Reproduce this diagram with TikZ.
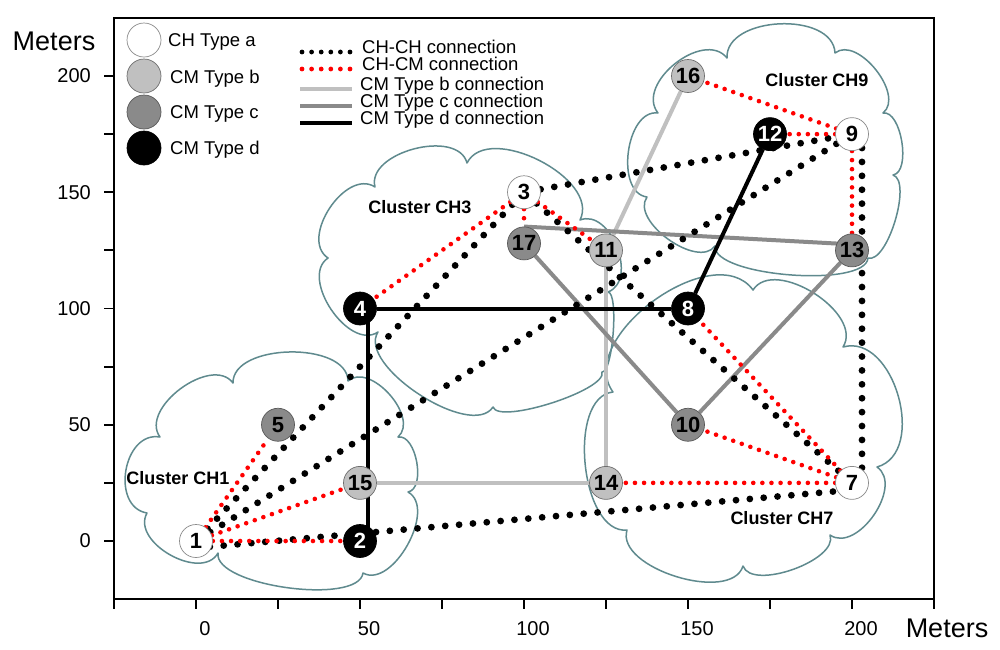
\documentclass[tikz,border=0pt]{standalone}
\usepackage{fontspec}
\setmainfont{Liberation Sans}
\definecolor{cloudc}{RGB}{95,138,142}
\definecolor{cmb}{RGB}{192,192,192}
\definecolor{cmc}{RGB}{138,138,138}
\definecolor{rim}{RGB}{110,110,110}
\pgfdeclarelayer{bg}
\pgfdeclarelayer{lines}
\pgfsetlayers{bg,lines,main}
\begin{document}
\begin{tikzpicture}[x=1pt,y=1pt,
  nb/.style={circle,minimum size=33pt,inner sep=0pt,line width=0.7pt,font=\fontsize{22}{22}\selectfont\bfseries},
  typea/.style={nb,fill=white,draw=rim!80},
  typeb/.style={nb,fill=cmb,draw=rim},
  typec/.style={nb,fill=cmc,draw=rim!80!black},
  typed/.style={nb,fill=black,draw=black,text=white},
  chch/.style={black,line width=6.8pt,line cap=round,dash pattern=on 0pt off 13.9pt},
  chcm/.style={red,line width=4.6pt,line cap=round,dash pattern=on 0pt off 9.1pt},
  legchch/.style={black,line width=4.8pt,line cap=round,dash pattern=on 0pt off 9.6pt},
  legchcm/.style={red,line width=4.8pt,line cap=round,dash pattern=on 0pt off 9.6pt},
  linkb/.style={cmb,line width=4pt},
  linkc/.style={cmc,line width=4pt},
  linkd/.style={black,line width=4pt},
  cloudline/.style={draw=cloudc,line width=1.5pt,line join=round},
  pf/.style={bend left=90,looseness=#1},
  clabel/.style={font=\fontsize{18}{18}\selectfont\bfseries},
  legtext/.style={font=\fontsize{18.5}{18.5}\selectfont,anchor=west,text depth=0pt,inner sep=0pt},
  ticklab/.style={font=\fontsize{20}{20}\selectfont,inner sep=0pt},
  axlab/.style={font=\fontsize{27}{27}\selectfont,inner sep=0pt},
  axisline/.style={line width=1.8pt},
]
\useasboundingbox (0,0) rectangle (1000,-649);
\begin{pgfonlayer}{bg}
\fill[white] (0,0) rectangle (1000,-649);
% Cluster CH1
\draw[cloudline] (147,-513) to[pf=1.24] (160,-437) to[pf=1.0] (233,-383) to[pf=0.89] (348,-381)
  to[pf=1.0] (398,-437) to[pf=0.85] (408,-492) to[pf=0.93] (363,-573) to[pf=0.58] (218,-553)
  to[pf=1.05] (147,-513) -- cycle;
% Cluster CH3
\draw[cloudline] (375,-187) to[pf=0.97] (467,-163) to[pf=0.94] (580,-220) to[pf=1.09] (608,-292)
  to[pf=0.35] (602,-372) to[pf=0.42] (493,-407) to[pf=0.74] (378,-332) to[pf=1.0] (328,-258)
  to[pf=1.05] (375,-187) -- cycle;
% Cluster CH9
\draw[cloudline] (727,-58) to[pf=1.0] (835,-53) to[pf=0.95] (883,-113) to[pf=0.76] (893,-175)
  to[pf=0.6] (868,-258) to[pf=0.51] (715,-246) to[pf=0.89] (647,-197) to[pf=0.98] (658,-113)
  to[pf=1.08] (727,-58) -- cycle;
% Cluster CH7
\draw[cloudline] (613,-392) to[pf=0.98] (753,-290) to[pf=0.96] (843,-347) to[pf=1.09] (877,-467)
  to[pf=1.02] (830,-535) to[pf=0.74] (743,-566) to[pf=0.84] (627,-530) to[pf=0.86] (613,-392) -- cycle;
\end{pgfonlayer}

\node[clabel] (lch9) at (817,-80) {Cluster CH9};
\node[clabel] (lch3) at (420,-207) {Cluster CH3};
\node[clabel] (lch1) at (178,-478) {Cluster CH1};
\node[clabel] (lch7) at (782,-518) {Cluster CH7};

\begin{scope}[shift={(196,-541)},x=3.28pt,y=2.325pt]
  \draw[axisline] (-25,-25) rectangle (225,225);
  \foreach \t in {-25,0,...,225} \draw[axisline] (\t,-25) -- ++(0,-10pt);
  \foreach \t in {0,25,...,200} \draw[axisline] (-25,\t) -- ++(-10pt,0);
  \foreach \t in {0,50,...,200} {
    \node[ticklab] (xl\t) at ([xshift=9pt,yshift=-29pt]\t,-25) {\t};
    \node[ticklab,anchor=east] (yl\t) at ([xshift=-23pt]-25,\t) {\t};
  }
  \node[typea] (n1) at (0,0) {1};
  \node[typed] (n2) at (50,0) {2};
  \node[typea] (n3) at (100,150) {3};
  \node[typed] (n4) at (50,100) {4};
  \node[typec] (n5) at (25,50) {5};
  \node[typea] (n7) at (200,25) {7};
  \node[typed] (n8) at (150,100) {8};
  \node[typea] (n9) at (200,175) {9};
  \node[typec] (n10) at (150,50) {10};
  \node[typeb] (n11) at (125,125) {11};
  \node[typed] (n12) at (175,175) {12};
  \node[typec] (n13) at (200,125) {13};
  \node[typeb] (n14) at (125,25) {14};
  \node[typeb] (n15) at (50,25) {15};
  \node[typeb] (n16) at (150,200) {16};
  \node[typec] (n17) at (100,128) {17};
\end{scope}

\begin{pgfonlayer}{lines}
  % CM connections
  \draw[linkb] (n15) -- (n14);
  \draw[linkb] (n14) -- (n11);
  \draw[linkb] (n11) -- (n16);
  \draw[linkc] (n17.north) -- ([yshift=6pt]n13.center);
  \draw[linkc] (n17) -- (n10);
  \draw[linkc] (n10) -- (n13);
  \draw[linkd] (n4) -- (n8);
  \draw[linkd] ([xshift=8pt]n4.center) -- ([xshift=8pt]n2.center);
  \draw[linkd] (n8) -- (n12);
  % CH-CH
  \draw[chch] (n1) -- (n3);
  \draw[chch] (n1) -- (n9);
  \draw[chch] ([yshift=-7pt]n1.center) -- ([yshift=-7pt]n7.center);
  \draw[chch] (n3) -- (n9);
  \draw[chch] (n3) -- (n7);
  \draw[chch] ([xshift=10pt]n9.center) -- ([xshift=10pt]n7.center);
  % CH-CM
  \draw[chcm] (n1) -- (n5);
  \draw[chcm] (n1) -- (n15);
  \draw[chcm] (n1) -- (n2);
  \draw[chcm] (n3) -- (n4);
  \draw[chcm] (n3) -- (n17);
  \draw[chcm] (n3) -- (n11);
  \draw[chcm] (n9) -- (n16);
  \draw[chcm] (n9) -- (n12);
  \draw[chcm] (n9) -- (n13);
  \draw[chcm] (n7) -- (n8);
  \draw[chcm] (n7) -- (n10);
  \draw[chcm] (n7) -- (n14);
\end{pgfonlayer}

% legend
\node[typea,minimum size=34pt] (lga) at (144,-40) {};
\node[typeb,minimum size=34pt] (lgb) at (144,-76) {};
\node[typec,minimum size=34pt] (lgc) at (144,-112) {};
\node[typed,minimum size=34pt] (lgd) at (144,-148) {};
\node[legtext] (lta) at (168,-40) {CH Type a};
\node[legtext] (ltb) at (170,-77) {CM Type b};
\node[legtext] (ltc) at (170,-112) {CM Type c};
\node[legtext] (ltd) at (170,-148) {CM Type d};
\draw[legchch] (302,-52) -- (350,-52);
\draw[legchcm] (302,-69) -- (350,-69);
\draw[linkb] (300,-89) -- (352,-89);
\draw[linkc] (300,-106) -- (352,-106);
\draw[linkd] (300,-123) -- (352,-123);
\node[legtext] (t1) at (362,-47) {CH-CH connection};
\node[legtext] (t2) at (362,-64) {CH-CM connection};
\node[legtext] (t3) at (360,-84) {CM Type b connection};
\node[legtext] (t4) at (360,-101) {CM Type c connection};
\node[legtext] (t5) at (360,-118) {CM Type d connection};

\node[axlab] (my) at (54,-41) {Meters};
\node[axlab] (mx) at (947,-628) {Meters};
\end{tikzpicture}
\end{document}
